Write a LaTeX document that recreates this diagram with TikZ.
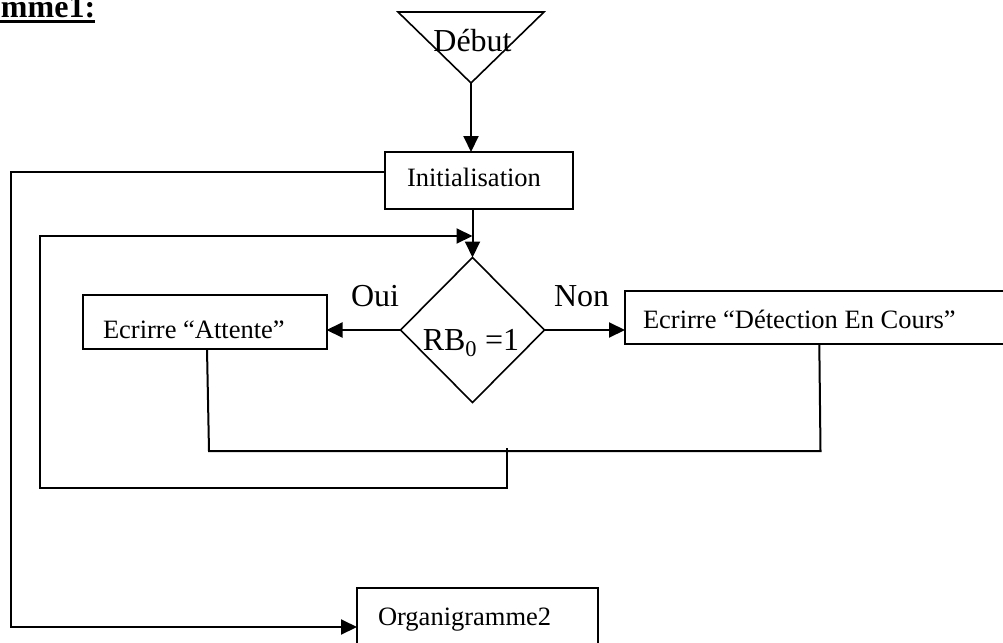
\documentclass[tikz,border=0pt]{standalone}
\usepackage{fontspec}
\setmainfont{Liberation Serif}
\usetikzlibrary{arrows.meta,shapes.geometric}
\begin{document}
\begin{tikzpicture}[x=1pt,y=-1pt,
  line width=2pt,
  box/.style={draw, rectangle, anchor=north west, inner sep=0pt, outer sep=0pt},
  lbl/.style={anchor=base west, inner sep=0pt, font=\fontsize{26.5}{30}\selectfont},
  big/.style={inner sep=0pt, font=\fontsize{32}{36}\selectfont},
  arr/.style={-{Triangle[length=16pt,width=15pt]}}]
\useasboundingbox (0,0) rectangle (1003,642);
\clip (0,0) rectangle (1003,642);
% title
\node[anchor=base west, inner sep=0pt, font=\bfseries\fontsize{32}{36}\selectfont] (title) at (0,18) {mme1:};
\draw[line width=2.5pt] (0,21.5) -- (95,21.5);
% Debut
\coordinate (tl) at (398,12);
\coordinate (tr) at (544,12);
\coordinate (apex) at (471,83);
\draw[line width=1.6pt] (tl) -- (tr) -- (apex) -- cycle;
\node[big, anchor=base] (debut) at (472.5,51.5) {Début};
% Initialisation
\node[box, minimum width=188pt, minimum height=57pt] (init) at (385,152) {};
\node[lbl] (initT) at (406,186.5) {Initialisation};
% decision
\node[diamond, draw, line width=1.6pt, minimum width=144pt, minimum height=145pt, inner sep=0pt, outer sep=0pt] (dec) at (472.5,330) {};
\node[big, anchor=base] (decT) at (471,350) {RB\textsubscript{0} =1};
% boxes
\node[box, minimum width=244pt, minimum height=54pt] (att) at (82.5,295) {};
\node[lbl] (attT) at (102,338) {Ecrirre “Attente”};
\node[box, minimum width=400pt, minimum height=53pt] (det) at (625,291) {};
\node[lbl] (detT) at (642,328) {Ecrirre “Détection En Cours”};
\node[box, minimum width=241pt, minimum height=80pt] (org) at (357,588) {};
\node[lbl] (orgT) at (377,625) {Organigramme2};
% labels
\node[big, anchor=base east] (oui) at (400,306) {Oui};
\node[big, anchor=base west] (non) at (553,306) {Non};
% connectors
\draw[arr] (apex) -- (apex |- init.north);
\draw[arr] (dec.north |- init.south) -- (dec.north);
\draw[arr] (dec.west) -- (att.east |- dec.west);
\draw[arr] (dec.east) -- (det.west |- dec.east);
\coordinate (c1) at (11,172);
\coordinate (c2) at (11,627);
\draw[arr] (init.west |- c1) -- (c1) -- (c2) -- (org.west |- c2);
\coordinate (a1) at (207,0);
\coordinate (j1) at (209,451);
\coordinate (j2) at (820.5,451);
\coordinate (d1) at (819.3,0);
\draw (att.south -| a1) -- (j1) -- (j2) -- (det.south -| d1);
\coordinate (l0) at (507,448);
\coordinate (l1) at (507,488);
\coordinate (l2) at (40,488);
\coordinate (l3) at (40,236);
\coordinate (l4) at (472.5,236);
\draw[arr] (l0) -- (l1) -- (l2) -- (l3) -- (l4);
\end{tikzpicture}
\end{document}
